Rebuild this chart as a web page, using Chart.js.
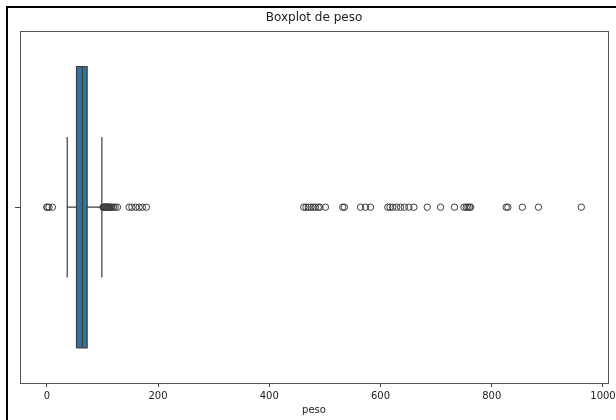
<!DOCTYPE html>
<html>
<head>
<meta charset="utf-8">
<script src="https://cdn.jsdelivr.net/npm/chart.js@4"></script>
<style>
  html, body { margin: 0; padding: 0; background: #fff; }
  #wrap { width: 616px; height: 420px; }
</style>
</head>
<body>
<div id="wrap"><canvas id="chart"></canvas></div>
<script>
// datos del boxplot de peso
const categories = ['peso'];
const boxLabels = ['bigote inf', 'Q1', 'mediana', 'Q3', 'bigote sup'];
const boxValues = [36.7, 53.4, 64, 72.6, 99];
const outliers = [
  0, 1, 4, 10,
  101, 102, 103, 104, 105, 106, 107, 108, 109, 110, 111, 112, 113, 115, 117, 120, 123, 127,
  148, 153, 160, 166, 172, 179,
  462, 466, 470, 475, 479, 483, 488, 491, 501, 532, 535, 564, 573, 582,
  613, 617, 622, 629, 636, 643, 651, 660, 684, 708,
  733, 750, 754, 757, 760, 762, 826, 829, 855, 884, 961
];
const xTicks = [0, 200, 400, 600, 800, 1000];

const [wLo, q1, med, q3, wHi] = boxValues;
const BOX = 0.4, CAP = 0.2;
const edge = '#3d3d3d';
const font = { family: 'DejaVu Sans', size: 10 };

function seg(points) {
  return {
    type: 'line',
    data: points.map(p => ({ x: p[0], y: p[1] })),
    borderColor: edge,
    borderWidth: 1.2,
    pointRadius: 0,
    fill: false,
    order: 1
  };
}

const framePlugin = {
  id: 'frame',
  beforeDraw(chart) {
    const ctx = chart.ctx;
    ctx.save();
    ctx.fillStyle = '#000';
    ctx.fillRect(6, 6, chart.width, 2);
    ctx.fillRect(6, 6, 2, chart.height);
    ctx.restore();
  },
  afterDraw(chart) {
    const { ctx, chartArea: a } = chart;
    ctx.save();
    ctx.strokeStyle = '#555';
    ctx.lineWidth = 1;
    ctx.strokeRect(Math.round(a.left) + 0.5, Math.round(a.top) + 0.5,
      Math.round(a.right - a.left), Math.round(a.bottom - a.top));
    ctx.restore();
  }
};

new Chart(document.getElementById('chart'), {
  type: 'scatter',
  data: {
    datasets: [
      {
        label: categories[0] + ' outliers',
        type: 'scatter',
        data: outliers.map(v => ({ x: v, y: 0 })),
        pointStyle: 'circle',
        pointRadius: 3.2,
        backgroundColor: 'rgba(0,0,0,0)',
        borderColor: edge,
        borderWidth: 1,
        order: 0
      },
      seg([[wLo, 0], [q1, 0]]),
      seg([[q3, 0], [wHi, 0]]),
      seg([[wLo, -CAP], [wLo, CAP]]),
      seg([[wHi, -CAP], [wHi, CAP]]),
      seg([[med, -BOX], [med, BOX]]),
      seg([[q1, -BOX], [q3, -BOX], [q3, BOX], [q1, BOX], [q1, -BOX]]),
      {
        label: categories[0],
        type: 'line',
        data: [{ x: q1, y: BOX }, { x: q3, y: BOX }],
        borderWidth: 0,
        pointRadius: 0,
        backgroundColor: '#3274a1',
        fill: { value: -BOX },
        order: 10
      }
    ]
  },
  options: {
    responsive: true,
    maintainAspectRatio: false,
    animation: false,
    layout: { padding: { top: 6, left: 6, right: 8, bottom: 0 } },
    plugins: {
      legend: { display: false },
      tooltip: { enabled: false },
      title: {
        display: true,
        text: 'Boxplot de peso',
        fullSize: false,
        color: '#222',
        font: { family: 'DejaVu Sans', size: 12, weight: 'normal' },
        padding: { top: 5, bottom: 6 }
      }
    },
    scales: {
      x: {
        type: 'linear',
        min: -48.2,
        max: 1009,
        afterBuildTicks: s => { s.ticks = xTicks.map(v => ({ value: v })); },
        afterFit: s => { s.height = 37; s.paddingLeft = 0; s.paddingRight = 0; },
        border: { display: false },
        grid: { drawOnChartArea: false, tickLength: 4, color: '#444' },
        ticks: {
          font, color: '#222', padding: 3, maxRotation: 0, autoSkip: false,
          callback: v => String(v)
        },
        title: {
          display: true,
          text: 'peso',
          color: '#222',
          font,
          padding: { top: 2, bottom: 4 }
        }
      },
      y: {
        type: 'linear',
        min: -0.5,
        max: 0.5,
        afterBuildTicks: s => { s.ticks = [{ value: 0 }]; },
        afterFit: s => { s.width = 14; },
        border: { display: false },
        grid: { drawOnChartArea: false, tickLength: 5, color: '#444' },
        ticks: { callback: () => '' }
      }
    }
  },
  plugins: [framePlugin]
});
</script>
</body>
</html>
